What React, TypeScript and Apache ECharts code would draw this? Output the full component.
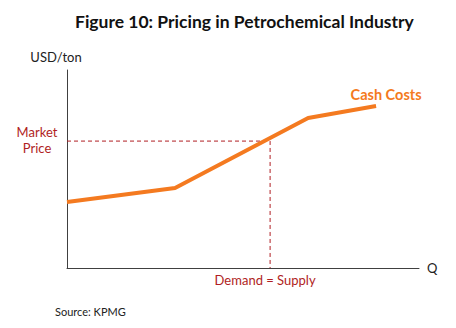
import React, { useEffect, useRef } from "react";
import * as echarts from "echarts";

const costQ = [0, 30.7, 68.5, 87.8];
const costUSD = [33.3, 40.4, 75.8, 81.8];
const marketPrice = 64.1;
const equilibriumQ = 57.7;

const titleText = "Figure 10: Pricing in Petrochemical Industry";
const yName = "USD/ton";
const xName = "Q";
const seriesName = "Cash Costs";
const priceLabel = "Market\nPrice";
const eqLabel = "Demand = Supply";
const sourceText = "Source: KPMG";

const ORANGE = "#F47A20";
const DARKRED = "#B01E23";
const FONT = "Lato, 'Open Sans', sans-serif";

export default function App() {
  const ref = useRef<HTMLDivElement>(null);
  useEffect(() => {
    document.body.style.margin = "0";
    if (!ref.current) return;
    const chart = echarts.init(ref.current, undefined, { renderer: "svg" });
    const costData = costQ.map((q, i) => [q, costUSD[i]]);
    const last = costData.length - 1;
    chart.setOption({
      animation: false,
      backgroundColor: "#ffffff",
      textStyle: { fontFamily: FONT },
      title: {
        text: titleText,
        left: 70,
        top: 7,
        textStyle: { fontFamily: FONT, fontSize: 17.5, fontWeight: "bold", color: "#111" },
      },
      grid: { left: 67, right: 37, top: 70, bottom: 60 },
      xAxis: {
        type: "value",
        min: 0,
        max: 100,
        name: xName,
        nameLocation: "end",
        nameGap: 8,
        nameTextStyle: { fontFamily: FONT, fontSize: 13, color: "#222", verticalAlign: "middle" },
        axisLine: { show: true, onZero: false, lineStyle: { color: "#404040", width: 1 } },
        axisTick: { show: false },
        axisLabel: { show: false },
        splitLine: { show: false },
      },
      yAxis: {
        type: "value",
        min: 0,
        max: 100,
        name: yName,
        nameLocation: "end",
        nameGap: 7,
        nameTextStyle: { fontFamily: FONT, fontSize: 13, color: "#222", align: "center", padding: [0, 22, 0, 0] },
        axisLine: { show: true, onZero: false, lineStyle: { color: "#404040", width: 1 } },
        axisTick: { show: false },
        axisLabel: { show: false },
        splitLine: { show: false },
      },
      series: [
        {
          type: "line",
          name: "guides",
          data: [
            {
              value: [0, marketPrice],
              label: {
                show: true,
                position: "inside",
                offset: [-30, -1],
                formatter: priceLabel,
                align: "center",
                lineHeight: 15.5,
                fontSize: 13,
                color: DARKRED,
                fontFamily: FONT,
              },
            },
            [equilibriumQ, marketPrice],
            {
              value: [equilibriumQ, 0],
              label: {
                show: true,
                position: "inside",
                offset: [-5, 12],
                formatter: eqLabel,
                fontSize: 13,
                color: DARKRED,
                fontFamily: FONT,
              },
            },
          ],
          symbol: "circle",
          symbolSize: 1,
          showSymbol: true,
          itemStyle: { color: "rgba(0,0,0,0)" },
          lineStyle: { color: DARKRED, width: 1, type: [4, 3] },
          silent: true,
          z: 1,
        },
        {
          type: "line",
          name: seriesName,
          data: costData.map((d, i) =>
            i === last
              ? {
                  value: d,
                  label: {
                    show: true,
                    position: "inside",
                    offset: [10, -12],
                    formatter: seriesName,
                    fontSize: 14.5,
                    fontWeight: "bold",
                    color: ORANGE,
                    fontFamily: FONT,
                  },
                }
              : d
          ),
          symbol: "circle",
          symbolSize: 1,
          showSymbol: true,
          itemStyle: { color: "rgba(0,0,0,0)" },
          lineStyle: { color: ORANGE, width: 4 },
          z: 3,
        },
      ],
      graphic: [
        {
          type: "text",
          left: 55,
          top: 306,
          style: { text: sourceText, fontSize: 11, fill: "#222", fontFamily: FONT },
        },
      ],
    });
    return () => chart.dispose();
  }, []);
  return <div ref={ref} style={{ width: 456, height: 328 }} />;
}
